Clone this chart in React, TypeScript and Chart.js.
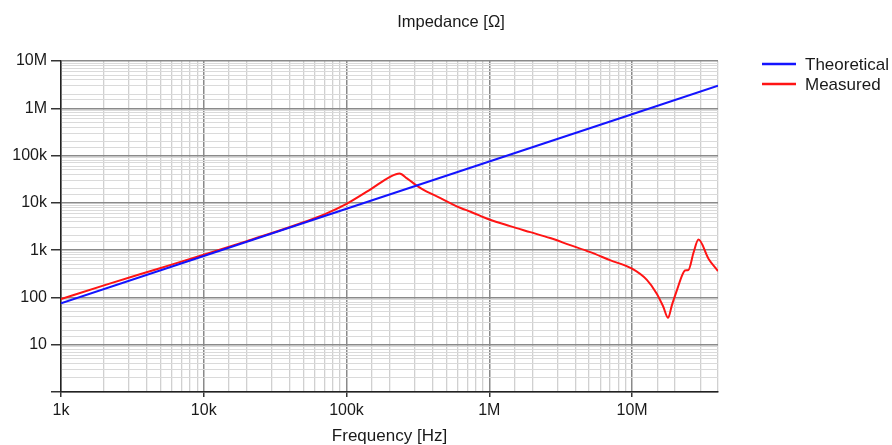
import React, { useEffect, useRef } from 'react';
import { Chart, registerables } from 'chart.js';

Chart.register(...registerables);

// ---- Data ----
const theoFreq = [1e3, 1e4, 1e5, 1e6, 1e7, 4e7];
const theoZ = [75, 750, 7500, 75000, 750000, 3000000];

const measFreq = [
  1e3, 2e3, 5e3, 1e4, 2e4, 3e4, 5e4, 7e4, 1e5, 1.5e5, 2e5, 2.35e5, 2.65e5, 3.3e5,
  4.55e5, 6.3e5, 7.4e5, 1e6, 1.4e6, 1.94e6, 2.67e6, 3.69e6, 5.1e6, 7e6, 1e7, 1.27e7,
  1.49e7, 1.65e7, 1.79e7, 1.9e7, 2.06e7, 2.25e7, 2.35e7, 2.48e7, 2.7e7, 2.92e7,
  3.43e7, 4e7,
];
const measZ = [
  92, 180, 420, 800, 1550, 2300, 3900, 5700, 9500, 20000, 35000, 42000, 33000, 20500,
  12600, 7800, 6500, 4450, 3220, 2400, 1800, 1275, 907, 614, 405, 235,
  120, 65, 37, 68, 141, 300, 373, 380, 900, 1670,
  660, 360,
];

const seriesNames = ['Theoretical', 'Measured'];
const seriesColors = ['#1414ff', '#ff1414'];

const xTickValues = [1e3, 1e4, 1e5, 1e6, 1e7];
const xTickLabels = ['1k', '10k', '100k', '1M', '10M'];
const yTickValues = [10, 100, 1e3, 1e4, 1e5, 1e6, 1e7];
const yTickLabels = ['10', '100', '1k', '10k', '100k', '1M', '10M'];

const chartTitle = 'Impedance [Ω]';
const xTitle = 'Frequency [Hz]';

const FONT = '"Liberation Sans", Arial, sans-serif';
const TEXT = '#1a1a1a';

const isDecade = (v: number) => {
  const l = Math.log10(v);
  return Math.abs(l - Math.round(l)) < 1e-9;
};
const labelFor = (vals: number[], labels: string[]) => (value: any) => {
  const v = Number(value);
  const i = vals.findIndex((t) => Math.abs(t - v) / t < 1e-6);
  return i >= 0 ? labels[i] : '';
};

const textPlugin = {
  id: 'customTexts',
  afterDraw(chart: any) {
    const ctx = chart.ctx as CanvasRenderingContext2D;
    const area = chart.chartArea;
    ctx.save();
    ctx.fillStyle = TEXT;
    ctx.textBaseline = 'middle';
    ctx.textAlign = 'center';
    ctx.font = `16.5px ${FONT}`;
    ctx.fillText(chartTitle, 451, 22);
    ctx.font = `17px ${FONT}`;
    ctx.fillText(xTitle, (area.left + area.right) / 2, 436);
    // legend
    ctx.textAlign = 'left';
    chart.data.datasets.forEach((ds: any, i: number) => {
      const y = 64 + i * 20;
      ctx.strokeStyle = ds.borderColor;
      ctx.lineWidth = 2.5;
      ctx.beginPath();
      ctx.moveTo(762, y);
      ctx.lineTo(796, y);
      ctx.stroke();
      ctx.fillStyle = TEXT;
      ctx.font = `17px ${FONT}`;
      ctx.fillText(ds.label, 805, y + 1);
    });
    ctx.restore();
  },
};

export default function App() {
  const ref = useRef<HTMLCanvasElement | null>(null);

  useEffect(() => {
    document.body.style.margin = '0';
    const canvas = ref.current;
    if (!canvas) return;

    const major = (c: any) => c.tick && isDecade(c.tick.value);
    const tickColor = (c: any) => (major(c) ? '#333333' : 'rgba(0,0,0,0)');

    const chart = new Chart(canvas, {
      type: 'line',
      data: {
        datasets: [
          {
            label: seriesNames[0],
            data: theoFreq.map((f, i) => ({ x: f, y: theoZ[i] })),
            borderColor: seriesColors[0],
            backgroundColor: seriesColors[0],
            borderWidth: 2,
            pointRadius: 0,
            tension: 0,
          },
          {
            label: seriesNames[1],
            data: measFreq.map((f, i) => ({ x: f, y: measZ[i] })),
            borderColor: seriesColors[1],
            backgroundColor: seriesColors[1],
            borderWidth: 2,
            pointRadius: 0,
            cubicInterpolationMode: 'monotone',
          },
        ],
      },
      options: {
        animation: false,
        responsive: false,
        maintainAspectRatio: false,
        layout: { padding: { top: 61, right: 174, bottom: 0, left: 0 } },
        plugins: {
          legend: { display: false },
          title: { display: false },
          tooltip: { enabled: false },
        },
        scales: {
          x: {
            type: 'logarithmic',
            min: 1e3,
            max: 4e7,
            afterFit: (s: any) => {
              s.height = 53;
            },
            grid: {
              color: (c: any) => (major(c) ? '#8a8a8a' : '#d0d0d0'),
              lineWidth: (c: any) => (major(c) ? 1.5 : 1.3),
              tickColor: tickColor,
              drawTicks: true,
              tickLength: 5,
            },
            border: { display: true, color: '#222', width: 1.5 },
            ticks: {
              autoSkip: false,
              maxRotation: 0,
              minRotation: 0,
              padding: 4,
              color: TEXT,
              font: { family: FONT, size: 16 },
              callback: labelFor(xTickValues, xTickLabels),
            },
          },
          y: {
            type: 'logarithmic',
            min: 1,
            max: 1e7,
            afterFit: (s: any) => {
              s.width = 61;
            },
            grid: {
              color: (c: any) => (major(c) ? '#8a8a8a' : '#dadada'),
              lineWidth: (c: any) => (major(c) ? 1.5 : 1),
              tickColor: tickColor,
              drawTicks: true,
              tickLength: 10,
            },
            border: { display: true, color: '#222', width: 1.5 },
            ticks: {
              autoSkip: false,
              padding: 4,
              color: TEXT,
              font: { family: FONT, size: 16 },
              callback: labelFor(yTickValues, yTickLabels),
            },
          },
        },
      },
      plugins: [textPlugin],
    } as any);

    return () => chart.destroy();
  }, []);

  return (
    <div style={{ width: 892, height: 445 }}>
      <canvas ref={ref} width={892} height={445} style={{ display: 'block' }} />
    </div>
  );
}
